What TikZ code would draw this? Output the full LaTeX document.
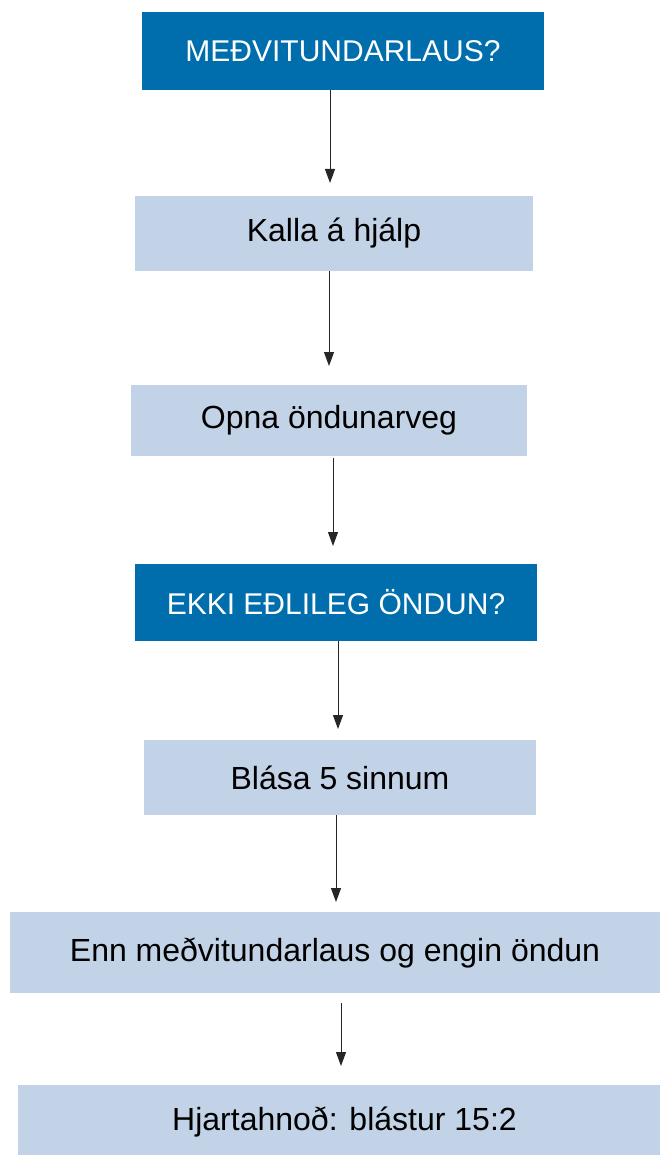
\documentclass[tikz,border=0pt]{standalone}
\usepackage{fontspec}
\setmainfont{Liberation Sans}
\usetikzlibrary{arrows.meta}
\definecolor{darkbox}{HTML}{006EAD}
\definecolor{lightbox}{HTML}{C3D3E7}
\tikzset{
  qbox/.style={rectangle, fill=darkbox, text=white, inner sep=0pt,
    font=\fontsize{30}{36}\selectfont},
  abox/.style={rectangle, fill=lightbox, text=black, inner sep=0pt,
    font=\fontsize{32}{38}\selectfont},
  arr/.style={draw=black!85, line width=1pt,
    -{Triangle[length=14pt,width=10pt]}}
}
\begin{document}
\begin{tikzpicture}[x=1pt,y=-1pt]
\useasboundingbox (0,0) rectangle (660,1155);
\node[qbox, minimum width=402pt, minimum height=78pt] (b1) at (343,51) {MEÐVITUNDARLAUS?};
\node[abox, minimum width=398pt, minimum height=75pt] (b2) at (334,233.5) {\raisebox{-2pt}{Kalla á hjálp}};
\node[abox, minimum width=396pt, minimum height=71pt] (b3) at (329,420.5) {\raisebox{-2pt}{Opna öndunarveg}};
\node[qbox, minimum width=402pt, minimum height=77pt] (b4) at (336,602.5) {EKKI EÐLILEG ÖNDUN?};
\node[abox, minimum width=392pt, minimum height=75pt] (b5) at (340,777.5) {Blása 5 sinnum};
\node[abox, minimum width=650pt, minimum height=81pt] (b6) at (335,952.5) {\raisebox{-1pt}{Enn meðvitundarlaus og engin öndun}};
\node[abox, minimum width=642pt, minimum height=70pt, anchor=north west] (b7) at (18,1085) {};
\node[font=\fontsize{32}{38}\selectfont, inner sep=0pt] (t7) at (344.5,1122) {Hjartahnoð: blástur 15:2};
\coordinate (a1) at (330,183);
\coordinate (a2) at (329,366);
\coordinate (a3) at (333,546);
\coordinate (a4) at (338,729);
\coordinate (a5) at (336,902);
\coordinate (a6) at (341,1066);
\coordinate (s6) at (341,1003);
\draw[arr] (b1.south -| a1) -- (a1);
\draw[arr] (b2.south -| a2) -- (a2);
\draw[arr] ([yshift=-2pt]b3.south -| a3) -- (a3);
\draw[arr] (b4.south -| a4) -- (a4);
\draw[arr] (b5.south -| a5) -- (a5);
\draw[arr] (s6) -- (a6);
\end{tikzpicture}
\end{document}
